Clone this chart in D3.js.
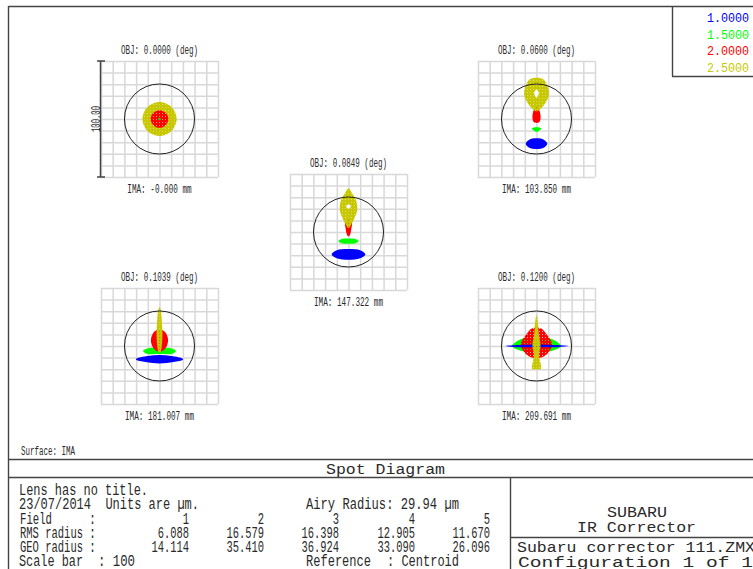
<!DOCTYPE html>
<html><head><meta charset="utf-8">
<style>html,body{margin:0;padding:0;background:#fff;overflow:hidden}svg{display:block}text{font-family:"Liberation Mono",monospace;fill:#2a2a2a}</style>
<script src="https://cdn.jsdelivr.net/npm/d3@7/dist/d3.min.js"></script>
</head><body><svg id="c" width="753" height="569"></svg>
<script>
// ---- data (micrometres relative to the field's centroid frame; half outlines, mirrored about x=0)
const fieldLabels = ["OBJ: 0.0000 (deg)","OBJ: 0.0600 (deg)","OBJ: 0.0849 (deg)","OBJ: 0.1039 (deg)","OBJ: 0.1200 (deg)"];
const imaLabels = ["IMA: -0.000 mm","IMA: 103.850 mm","IMA: 147.322 mm","IMA: 181.007 mm","IMA: 209.691 mm"];
const wavelengths = ["1.0000","1.5000","2.0000","2.5000"];
const waveColors = ["#0000ff","#00ff00","#ff0000","#c8c800"];
const airyRadius = 29.94;
const scaleBar = 100;
const spotBlue = [
 [[0,.3],[.3,0],[0,-.3]],
 [[0,-16.7],[6.5,-18],[9.2,-21.3],[6.5,-24.5],[0,-25.9]],
 [[0,-14.7],[10,-15.7],[14.4,-19.3],[10,-22.6],[0,-23.9]],
 [[0,-7.8],[10,-8.6],[20,-11],[20,-11.8],[12,-13.8],[0,-15]],
 [[0,1.2],[8,1],[20,.6],[27,0],[20,-.8],[8,-1.1],[0,-1.2]]];
const spotGreen = [
 [[0,1.1],[1.1,0],[0,-1.1]],
 [[0,-6.9],[4,-8.3],[1.5,-10.5],[0,-11.2]],
 [[0,-5.5],[6,-6],[8.6,-7.8],[6,-9.6],[0,-10.1]],
 [[0,-2],[8,-1.5],[13.5,-3.5],[14,-4.5],[11,-6.6],[0,-6.9]],
 [[0,6.6],[8,6.6],[13,6],[21,.5],[21,-.5],[13,-4.3],[8,-4.5],[0,-4.5]]];
const spotRed = [
 [[0,7.6],[5.3,5.3],[7.6,0],[5.3,-5.3],[0,-7.6]],
 [[0,10.9],[2.9,6],[3.4,.3],[2.3,-2.6],[0,-3.4]],
 [[0,12],[3,7],[2.6,4],[2,0],[1.2,-2.5],[0,-3.7]],
 [[0,14.4],[4.3,12.4],[7.2,6.6],[6.6,.9],[3.7,-3.4],[0,-4.9]],
 [[0,16],[4,15],[8,10.9],[13.4,1],[9,-7],[4,-10],[0,-10.6]]];
const spotYellow = [
 [[0,14.6],[10.3,10.3],[14.6,0],[10.3,-10.3],[0,-14.6]],
 [[0,35.6],[6.3,33.9],[10,26.1],[10.6,20.4],[7.2,13.2],[3.4,8.9],[0,6.6]],
 [[0,37.4],[3.4,32.8],[6.3,27.9],[7.5,19.3],[5.2,12],[2.3,6.3],[0,3.4]],
 [[0,33.9],[1.2,29.9],[2.3,16.7],[2.6,11],[2,.9],[1,-4.9],[0,-5.7]],
 [[0,26.7],[1.2,20],[2,10],[3.5,0],[2.2,-7],[3,-13],[4,-18],[3.4,-20],[0,-20.1]]];
const spotGaps = [
 [],
 [[0,25.5],[2,22.5],[0,18.5]],
 [[0,24],[2,22],[0,20]],
 [],
 []];
const drawOrders = [[3,2,1,0],[0,1,2,3],[0,1,2,3],[0,1,2,3],[1,2,0,3]];
const fieldDigits = ["1","2","3","4","5"];
const rmsRadius = ["6.088","16.579","16.398","12.905","11.670"];
const geoRadius = ["14.114","35.410","36.924","33.090","26.096"];

// ---- layout
const boxes = [[101,61],[478,61],[290,174],[101,288],[478,288]];
const boxW = 117, boxH = 116;
const colRight = [189,264,339,415,490];
const FS = 16;
const svg = d3.select("#c");
const spots = [spotBlue,spotGreen,spotRed,spotYellow];
const defs = svg.append("defs");
[["py","#c8c800",.55],["pr","#ff0000",.25]].forEach(([id,col,op])=>{
  const s = 3;
  const p = defs.append("pattern").attr("id",id).attr("patternUnits","userSpaceOnUse").attr("width",s).attr("height",s);
  p.append("path").attr("d",`M0 0H${s}V${s}H0Z M1 1V2H2V1Z`).attr("fill",col).attr("fill-rule","evenodd");
  p.append("rect").attr("x",1).attr("y",1).attr("width",1).attr("height",1).attr("fill",col).attr("opacity",op);
});
function txt(str,x,y,right,size,anchor){
  const t = svg.append("text").attr("x",x).attr("y",y).attr("font-size",size).text(str).attr("xml:space","preserve").style("white-space","pre");
  if(right!=null) t.attr("textLength",right-x).attr("lengthAdjust","spacingAndGlyphs");
  if(anchor) t.attr("text-anchor",anchor);
  return t;
}
function rule(x1,y1,x2,y2,w,c){svg.append("line").attr("x1",x1).attr("y1",y1).attr("x2",x2).attr("y2",y2).attr("stroke",c||"#444").attr("stroke-width",w||1.4);}

// frame
rule(8.5,6.5,753,6.5);rule(8.5,6,8.5,569);rule(8,459.5,753,459.5);rule(8,477.5,753,477.5);
rule(510.5,477,510.5,569);rule(510,537.5,753,537.5);
rule(672.5,6,672.5,76.5);rule(672,76.5,753,76.5);

// legend
wavelengths.forEach((w,i)=>txt(w,707,[22,38.5,55,72][i],749,13).style("fill",waveColors[i]));

// plots
const line = d3.line().curve(d3.curveCatmullRomClosed.alpha(.5));
const mirror = half => half.concat(half.slice().reverse().filter(p=>p[0]!==0).map(p=>[-p[0],p[1]]));
boxes.forEach(([bx,by],f)=>{
  const g = svg.append("g").attr("transform",`translate(${bx},${by})`);
  const xS = d3.scaleLinear().domain([-50,50]).range([0,boxW]);
  const yS = d3.scaleLinear().domain([-50,50]).range([boxH,0]);
  const grid = d3.range(-50,51,10);
  const gx = g.append("g").attr("transform",`translate(0,${boxH})`).call(d3.axisBottom(xS).tickValues(grid).tickSizeInner(-boxH).tickFormat(""));
  const gy = g.append("g").call(d3.axisLeft(yS).tickValues(grid).tickSizeInner(-boxW).tickFormat(""));
  [gx,gy].forEach(a=>{a.select(".domain").remove();a.selectAll("line").attr("stroke","#d8d8d8").attr("stroke-width",1.5);});
  const shape = half => line(mirror(half).map(p=>[xS(p[0]),yS(p[1])]));
  drawOrders[f].forEach(w=>{
    let fill = waveColors[w];
    if(w===3) fill="url(#py)";
    if(w===2&&(f===4||f===0)) fill="url(#pr)";
    g.append("path").attr("d",shape(spots[w][f])).attr("fill",fill);
  });
  if(spotGaps[f].length) g.append("path").attr("d",shape(spotGaps[f])).attr("fill","#fff");
  g.append("circle").attr("cx",xS(0)).attr("cy",yS(0)).attr("r",xS(airyRadius)-xS(0)).attr("fill","none").attr("stroke","#222").attr("stroke-width",1);
  const cx = bx+boxW/2;
  txt(fieldLabels[f],cx-38.5,by-7,cx+38.5,12);
  const n = imaLabels[f].length*4.6;
  txt(imaLabels[f],cx-n/2,by+boxH+16,cx+n/2,12);
  if(f===0){
    const yB = d3.scaleLinear().domain([0,scaleBar]).range([by+boxH,by]);
    rule(100.5,yB(0),100.5,yB(scaleBar),1.5,"#444");
    rule(97,yB(0),105,yB(0),1.5,"#444");rule(97,yB(scaleBar),105,yB(scaleBar),1.5,"#444");
    svg.append("text").attr("transform",`translate(100,${by+boxH/2}) rotate(-90)`).attr("text-anchor","middle").attr("font-size",12).attr("textLength",26).attr("lengthAdjust","spacingAndGlyphs").text("100.00");
  }
});

// footer
txt("Surface: IMA",21,455,75,12);
txt("Spot Diagram",326,474,445,14);
txt("Lens has no title.",19,495,148,FS);
txt("23/07/2014  Units are \u00b5m.",19,509,199,FS);
txt("Airy Radius: 29.94 \u00b5m",306,509,459,FS);
txt("Field",20,524,52,FS);txt(":",89,524,96,FS);
txt("RMS radius",20,537.5,83,FS);txt(":",89,537.5,96,FS);
txt("GEO radius",20,552,83,FS);txt(":",89,552,96,FS);
txt("Scale bar",19,566,83,FS);txt(": 100",98,566,135,FS);
txt("Reference",306,566,371,FS);txt(": Centroid",387,566,459,FS);
fieldDigits.forEach((d,i)=>{
  txt(d,colRight[i]-6.3,524,colRight[i],FS);
  txt(rmsRadius[i],colRight[i]-rmsRadius[i].length*6.25,537.5,colRight[i],FS);
  txt(geoRadius[i],colRight[i]-geoRadius[i].length*6.25,552,colRight[i],FS);
});
txt("SUBARU",607,517,667,14);
txt("IR Corrector",577,532,696,14);
txt("Subaru corrector 111.ZMX",517,552,755,14);
txt("Configuration 1 of 1",518,567,753,14);
</script></body></html>
